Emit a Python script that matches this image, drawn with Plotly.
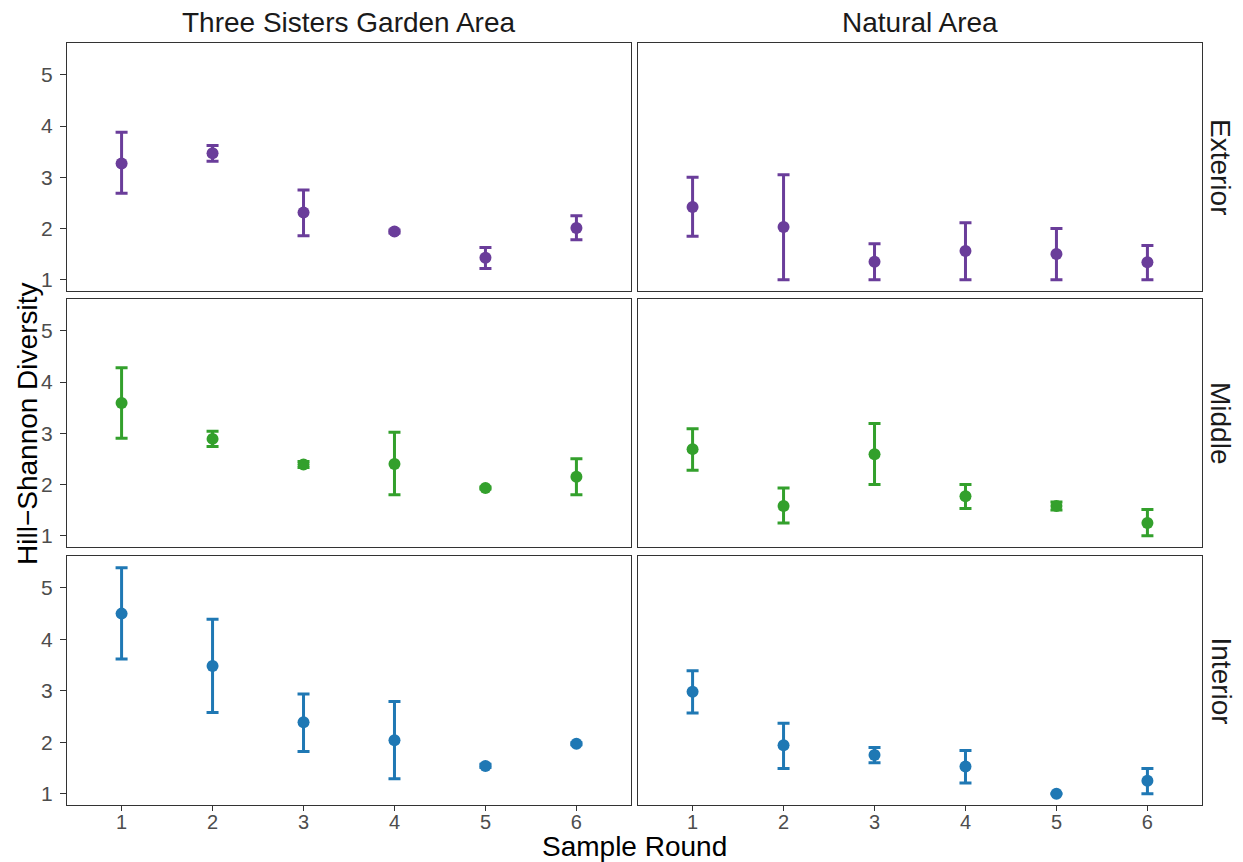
import plotly.graph_objects as go

rounds = [1, 2, 3, 4, 5, 6]
areas = ["Three Sisters Garden Area", "Natural Area"]
positions = ["Exterior", "Middle", "Interior"]
colors = {"Exterior": "#6a3d9a", "Middle": "#33a02c", "Interior": "#1f78b4"}

# Hill-Shannon diversity: mean, upper and lower bounds
garden_exterior_mean = [3.27, 3.47, 2.31, 1.94, 1.43, 2.01]
garden_exterior_upper = [3.88, 3.62, 2.75, 1.97, 1.63, 2.25]
garden_exterior_lower = [2.69, 3.31, 1.86, 1.91, 1.22, 1.78]

natural_exterior_mean = [2.42, 2.03, 1.35, 1.56, 1.50, 1.34]
natural_exterior_upper = [3.00, 3.05, 1.70, 2.11, 2.00, 1.67]
natural_exterior_lower = [1.85, 1.00, 1.00, 1.00, 1.00, 1.00]

garden_middle_mean = [3.59, 2.89, 2.39, 2.40, 1.93, 2.15]
garden_middle_upper = [4.28, 3.04, 2.45, 3.02, 1.95, 2.50]
garden_middle_lower = [2.90, 2.74, 2.33, 1.80, 1.91, 1.80]

natural_middle_mean = [2.69, 1.58, 2.59, 1.77, 1.58, 1.25]
natural_middle_upper = [3.09, 1.93, 3.19, 2.00, 1.66, 1.51]
natural_middle_lower = [2.28, 1.25, 2.00, 1.53, 1.50, 1.00]

garden_interior_mean = [4.50, 3.48, 2.39, 2.04, 1.54, 1.97]
garden_interior_upper = [5.39, 4.39, 2.94, 2.79, 1.57, 1.99]
garden_interior_lower = [3.62, 2.58, 1.82, 1.29, 1.51, 1.95]

natural_interior_mean = [2.98, 1.94, 1.75, 1.53, 1.00, 1.25]
natural_interior_upper = [3.39, 2.37, 1.90, 1.84, 1.00, 1.49]
natural_interior_lower = [2.57, 1.49, 1.60, 1.21, 1.00, 1.00]

y_ticks = [1, 2, 3, 4, 5]

data = {
    ("Exterior", 0): (garden_exterior_mean, garden_exterior_upper, garden_exterior_lower),
    ("Exterior", 1): (natural_exterior_mean, natural_exterior_upper, natural_exterior_lower),
    ("Middle", 0): (garden_middle_mean, garden_middle_upper, garden_middle_lower),
    ("Middle", 1): (natural_middle_mean, natural_middle_upper, natural_middle_lower),
    ("Interior", 0): (garden_interior_mean, garden_interior_upper, garden_interior_lower),
    ("Interior", 1): (natural_interior_mean, natural_interior_upper, natural_interior_lower),
}

# page has an 8px body margin; figure is sized to fill the rest of the window
OFF = 8
W, H = 1243 - OFF, 862 - OFF
col_px = [(67 - OFF, 631 - OFF), (638 - OFF, 1202 - OFF)]
row_px = [(43 - OFF, 291 - OFF), (299 - OFF, 547 - OFF), (556 - OFF, 805 - OFF)]

FONT = "Liberation Sans, Arial, Helvetica, sans-serif"

fig = go.Figure()
layout = {}
for r, pos in enumerate(positions):
    for c in range(2):
        idx = r * 2 + c + 1
        mean, up, lo = data[(pos, c)]
        err_plus = [u - m for u, m in zip(up, mean)]
        err_minus = [m - l for m, l in zip(mean, lo)]
        xa = "x" if idx == 1 else f"x{idx}"
        ya = "y" if idx == 1 else f"y{idx}"
        fig.add_trace(go.Scatter(
            x=rounds, y=mean, mode="markers", xaxis=xa, yaxis=ya,
            marker=dict(color=colors[pos], size=12),
            error_y=dict(type="data", symmetric=False, array=err_plus, arrayminus=err_minus,
                         color=colors[pos], thickness=3, width=6),
            showlegend=False, hoverinfo="skip",
        ))
        xd = [col_px[c][0] / W, col_px[c][1] / W]
        yd = [1 - row_px[r][1] / H, 1 - row_px[r][0] / H]
        xname = "xaxis" if idx == 1 else f"xaxis{idx}"
        yname = "yaxis" if idx == 1 else f"yaxis{idx}"
        layout[xname] = dict(
            domain=xd, anchor=ya, range=[0.4, 6.6], tickvals=rounds,
            showticklabels=(r == 2), ticks="outside" if r == 2 else "", ticklen=5,
            ticklabelstandoff=-6,
            tickcolor="#333333", showgrid=False, zeroline=False, showline=True,
            mirror=True, linecolor="#333333", linewidth=1,
            tickfont=dict(size=20, color="#4d4d4d", family=FONT),
        )
        layout[yname] = dict(
            domain=yd, anchor=xa, range=[0.78, 5.62], tickvals=y_ticks,
            showticklabels=(c == 0), ticks="outside" if c == 0 else "", ticklen=6,
            ticklabelstandoff=3,
            tickcolor="#333333", showgrid=False, zeroline=False, showline=True,
            mirror=True, linecolor="#333333", linewidth=1,
            tickfont=dict(size=21, color="#4d4d4d", family=FONT),
        )

annotations = []
for c, name in enumerate(areas):
    annotations.append(dict(
        text=name, xref="paper", yref="paper",
        x=(col_px[c][0] + col_px[c][1]) / 2 / W, y=1 - (22 - OFF) / H,
        showarrow=False, font=dict(size=28, color="#1a1a1a", family=FONT),
        xanchor="center", yanchor="middle"))
for r, pos in enumerate(positions):
    annotations.append(dict(
        text=pos, xref="paper", yref="paper",
        x=(1221 - OFF) / W, y=1 - (row_px[r][0] + row_px[r][1]) / 2 / H,
        showarrow=False, textangle=90, font=dict(size=28, color="#1a1a1a", family=FONT),
        xanchor="center", yanchor="middle"))
annotations.append(dict(
    text="Hill\u2212Shannon Diversity", xref="paper", yref="paper",
    x=(27 - OFF) / W, y=1 - (424 - OFF) / H, showarrow=False, textangle=-90,
    font=dict(size=28, color="black", family=FONT), xanchor="center", yanchor="middle"))
annotations.append(dict(
    text="Sample Round", xref="paper", yref="paper",
    x=(col_px[0][0] + col_px[1][1]) / 2 / W, y=1 - (846 - OFF) / H, showarrow=False,
    font=dict(size=28, color="black", family=FONT), xanchor="center", yanchor="middle"))

fig.update_layout(
    width=W, height=H, margin=dict(l=0, r=0, t=0, b=0),
    paper_bgcolor="white", plot_bgcolor="white",
    annotations=annotations, font=dict(family=FONT), **layout,
)

fig.write_html("out.html")
